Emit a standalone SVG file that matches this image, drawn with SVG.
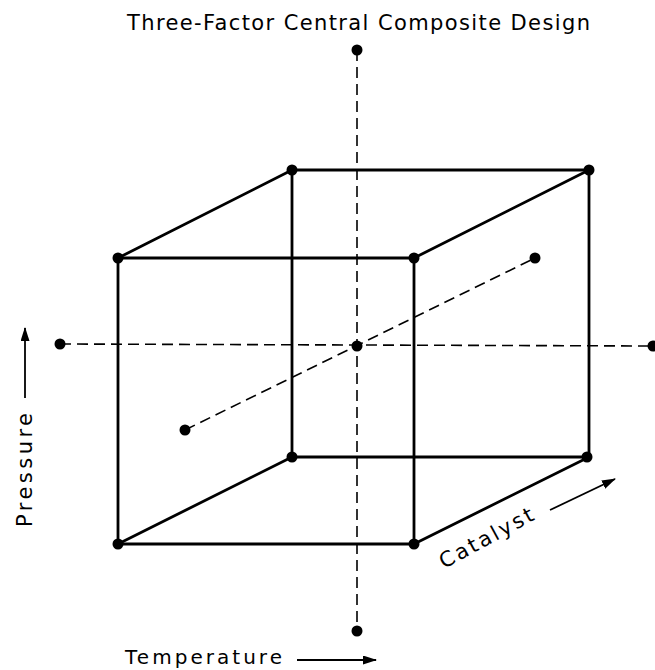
<svg xmlns="http://www.w3.org/2000/svg" width="655" height="670" viewBox="0 0 655 670">
<style>
.e{stroke:#000;stroke-width:2.8;fill:none}
.d{stroke:#000;stroke-width:1.6;fill:none;stroke-dasharray:11,6}
.p{fill:#000}
.t{font-family:"DejaVu Sans","Liberation Sans",Arial,sans-serif;font-size:21px;fill:#000}
.a{stroke:#000;stroke-width:1.8;fill:none}
</style>
<defs>
<marker id="ah" markerWidth="14" markerHeight="9" refX="13" refY="4.5" orient="auto" markerUnits="userSpaceOnUse">
<path d="M0,0 L14,4.5 L0,9 Z" fill="#000"/>
</marker>
</defs>
<rect width="655" height="670" fill="#fff"/>
<text class="t" x="127" y="30" textLength="463" lengthAdjust="spacing">Three-Factor Central Composite Design</text>
<g id="connectors">
<path class="d" d="M357,50 V631"/>
<path class="d" d="M60,344 L653,346"/>
<path class="d" d="M185,430 L535,258"/>
<path class="e" d="M292,170 H589 V457 H292 Z"/>
<path class="e" d="M118,258 H414 V544 H118 Z"/>
<path class="e" d="M118,258 L292,170 M414,258 L589,170 M118,544 L292,457 M414,544 L589,457"/>
</g>
<g id="cube-points">
<circle class="p" cx="118" cy="258" r="5.5"/>
<circle class="p" cx="414" cy="258" r="5.5"/>
<circle class="p" cx="118" cy="544" r="5.5"/>
<circle class="p" cx="414" cy="544" r="5.5"/>
<circle class="p" cx="292" cy="170" r="5.5"/>
<circle class="p" cx="589" cy="170" r="5.5"/>
<circle class="p" cx="292" cy="457" r="5.5"/>
<circle class="p" cx="587" cy="457" r="5.5"/>
</g>
<g id="center"><circle class="p" cx="357" cy="346" r="5.5"/></g>
<g id="star-points">
<circle class="p" cx="357" cy="50" r="5.5"/>
<circle class="p" cx="357" cy="631" r="5.5"/>
<circle class="p" cx="60" cy="344" r="5.5"/>
<circle class="p" cx="653" cy="346" r="5.5"/>
<circle class="p" cx="185" cy="430" r="5.5"/>
<circle class="p" cx="535" cy="258" r="5.5"/>
</g>
<g id="pressure-label">
<text class="t" transform="translate(32,527) rotate(-90)" textLength="114" lengthAdjust="spacing">Pressure</text>
<path class="a" d="M25,398 V328" marker-end="url(#ah)"/>
</g>
<g id="temperature-label">
<text class="t" x="125" y="664" style="font-size:20px" textLength="157" lengthAdjust="spacing">Temperature</text>
<path class="a" d="M297,660 H376" marker-end="url(#ah)"/>
</g>
<g id="catalyst-label">
<text class="t" transform="translate(444,569) rotate(-28.5)" textLength="104" lengthAdjust="spacing">Catalyst</text>
<path class="a" d="M550,510 L615,479" marker-end="url(#ah)"/>
</g>
</svg>
